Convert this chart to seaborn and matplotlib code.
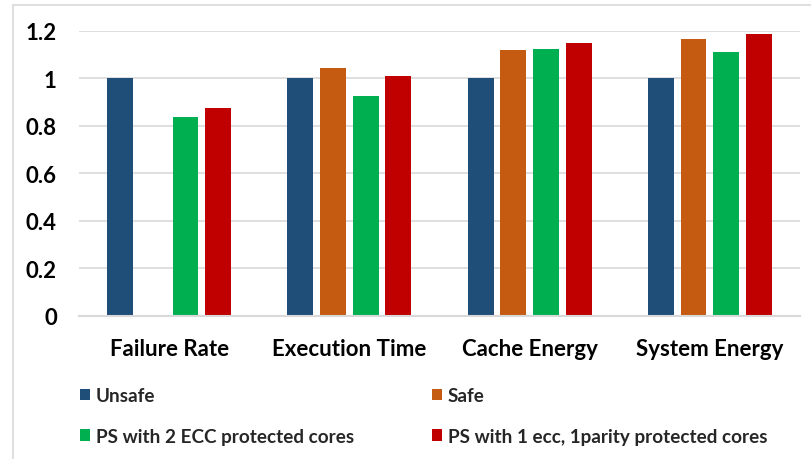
import numpy as np
import pandas as pd
import seaborn as sns
import matplotlib.pyplot as plt
from matplotlib.patches import Rectangle, Patch

categories = ["Failure Rate", "Execution Time", "Cache Energy", "System Energy"]
series = ["Unsafe", "Safe", "PS with 2 ECC protected cores",
          "PS with 1 ecc, 1parity protected cores"]
unsafe = [1.0, 1.0, 1.0, 1.0]
safe = [np.nan, 1.045, 1.119, 1.163]
ps_2ecc = [0.838, 0.927, 1.122, 1.109]
ps_1ecc_1parity = [0.873, 1.010, 1.150, 1.188]
colors = ["#1F4E79", "#C55A11", "#00B050", "#C00000"]
yticks = [0, 0.2, 0.4, 0.6, 0.8, 1.0, 1.2]
ytick_labels = ["0", "0.2", "0.4", "0.6", "0.8", "1", "1.2"]

rows = []
for name, vals in zip(series, [unsafe, safe, ps_2ecc, ps_1ecc_1parity]):
    for c, v in zip(categories, vals):
        rows.append({"category": c, "series": name, "value": v})
df = pd.DataFrame(rows)

sns.set_style("white")
plt.rcParams["font.family"] = ["Lato", "DejaVu Sans"]
plt.rcParams["font.weight"] = "bold"

fig = plt.figure(figsize=(8.11, 4.60), dpi=100)
ax = fig.add_axes([79 / 811, 1 - 316.7 / 460, (800 - 79) / 811, (316.7 - 31.7) / 460])

sns.barplot(data=df, x="category", y="value", hue="series",
            order=categories, hue_order=series, palette=colors, saturation=1,
            width=0.725, gap=0.21, linewidth=0, errorbar=None,
            legend=False, ax=ax)

ax.set_ylim(0, 1.2)
ax.set_xlim(-0.5, len(categories) - 0.5)
ax.set_yticks(yticks)
ax.set_yticklabels(ytick_labels)
ax.yaxis.grid(True, color="#D9D9D9", linewidth=1.2)
ax.set_axisbelow(True)
for s in ["left", "right", "top"]:
    ax.spines[s].set_visible(False)
ax.spines["bottom"].set_color("#D9D9D9")
ax.spines["bottom"].set_linewidth(1.5)
ax.tick_params(axis="both", length=0, labelsize=16, colors="black")
ax.tick_params(axis="y", pad=16)
ax.tick_params(axis="x", pad=16)
for lab in ax.get_xticklabels() + ax.get_yticklabels():
    lab.set_fontweight("bold")
ax.set_xlabel("")
ax.set_ylabel("")

# legend (row-wise order)
handles = [Patch(facecolor=c, edgecolor="none") for c in colors]
order = [0, 2, 1, 3]
leg = fig.legend([handles[i] for i in order], [series[i] for i in order],
                 ncol=2, loc="upper left", bbox_to_anchor=(63 / 811, 1 - 371 / 460),
                 frameon=False, handlelength=0.55, handleheight=0.55,
                 handletextpad=0.3, columnspacing=4.1, labelspacing=1.25,
                 prop={"weight": "bold", "size": 13.6})

# chart border
fig.patches.append(Rectangle((13 / 811, -0.1), 1.2, 1 - 6 / 460 + 0.1,
                             transform=fig.transFigure, fill=False,
                             edgecolor="#D9D9D9", linewidth=1.2, zorder=0))

fig.savefig("out.png", dpi=100)
